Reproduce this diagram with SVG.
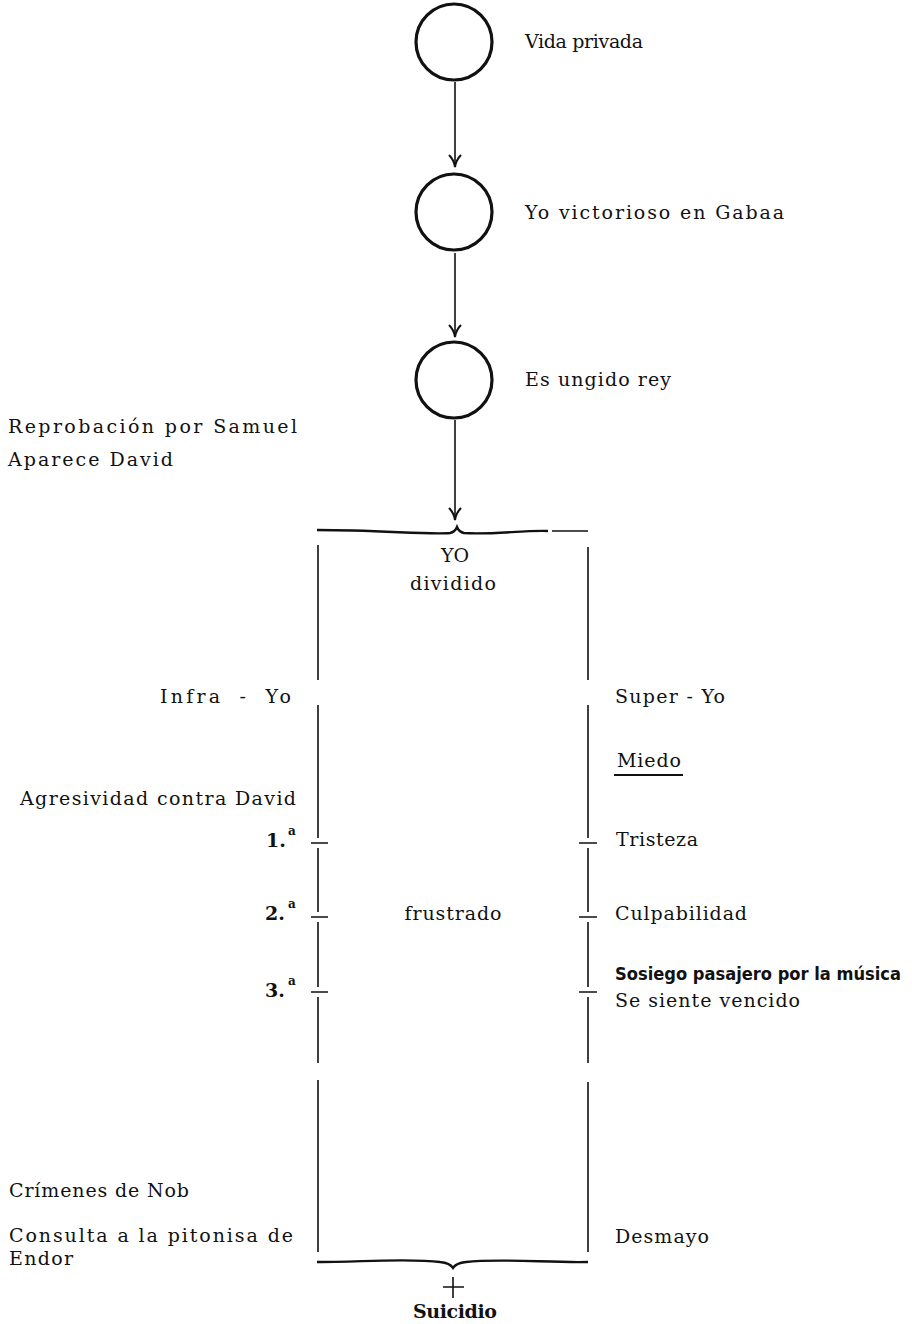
<svg xmlns="http://www.w3.org/2000/svg" width="912" height="1324" viewBox="0 0 912 1324">
<style>
  text { font-family: "DejaVu Serif", "Liberation Serif", "Times New Roman", serif; font-size: 19px; fill: #111; }
  .c { text-anchor: middle; }
  .b { font-weight: bold; }
  .sup { font-size: 12px; font-weight: bold; }
  .sans { font-family: "Liberation Sans Narrow", "DejaVu Sans Condensed", "Liberation Sans", sans-serif; font-weight: bold; font-size: 18px; }
  .node { fill: none; stroke: #111; stroke-width: 3.2; }
  .ln { stroke: #111; stroke-width: 1.6; fill: none; }
  .brace { stroke: #111; stroke-width: 2.4; fill: none; }
</style>
<defs>
  <marker id="arr" viewBox="-14 -8 16 16" markerWidth="16" markerHeight="16" refX="0" refY="0" orient="auto" markerUnits="userSpaceOnUse">
    <path d="M-12,-6 Q-7,-1 0,0 Q-7,1 -12,6" fill="none" stroke="#111" stroke-width="2"/>
  </marker>
</defs>
<rect width="912" height="1324" fill="#fff"/>

<g id="connectors">
  <path class="ln" d="M455,82 L455,167" marker-end="url(#arr)"/>
  <path class="ln" d="M455,253 L455,337" marker-end="url(#arr)"/>
  <path class="ln" d="M455,420 L455,520" marker-end="url(#arr)"/>
</g>

<g id="node-vida">
  <circle class="node" cx="454" cy="42" r="38"/>
  <text x="525" y="48" textLength="118" lengthAdjust="spacing">Vida privada</text>
</g>
<g id="node-gabaa">
  <circle class="node" cx="454" cy="212" r="38"/>
  <text x="525" y="219" textLength="259" lengthAdjust="spacing">Yo victorioso en Gabaa</text>
</g>
<g id="node-rey">
  <circle class="node" cx="454" cy="380" r="38"/>
  <text x="525" y="386" textLength="146" lengthAdjust="spacing">Es ungido rey</text>
</g>

<g id="left-notes">
  <text x="8" y="433" textLength="289" lengthAdjust="spacing">Reprobación por Samuel</text>
  <text x="8" y="466" textLength="165" lengthAdjust="spacing">Aparece David</text>
  <text x="160" y="703" textLength="131" lengthAdjust="spacing" style="word-spacing:7px">Infra - Yo</text>
  <text x="20" y="805" textLength="276" lengthAdjust="spacing">Agresividad contra David</text>
  <text class="b" x="266" y="847">1.</text><text class="sup" x="288" y="835">a</text>
  <text class="b" x="265" y="920">2.</text><text class="sup" x="288" y="908">a</text>
  <text class="b" x="265" y="997">3.</text><text class="sup" x="288" y="985">a</text>
  <text x="9" y="1197" textLength="180" lengthAdjust="spacing">Crímenes de Nob</text>
  <text x="9" y="1242" textLength="284" lengthAdjust="spacing">Consulta a la pitonisa de</text>
  <text x="9" y="1265" textLength="64" lengthAdjust="spacing">Endor</text>
</g>

<g id="yo-dividido">
  <path class="brace" d="M317,530 C380,530 430,535 450,533 Q455,532 457,527 Q459,532 464,533 C490,535 525,530 548,531"/>
  <path class="ln" d="M552,531 L588,531"/>
  <text class="c" x="455" y="562">YO</text>
  <text class="c" x="453" y="590" textLength="86" lengthAdjust="spacing">dividido</text>
  <text class="c" x="453" y="920" textLength="97" lengthAdjust="spacing">frustrado</text>
  <path class="ln" d="M318,545 V680 M318,705 V838 M318,848 V912 M318,922 V987 M318,997 V1063 M318,1080 V1252"/>
  <path class="ln" d="M588,547 V680 M588,705 V838 M588,848 V912 M588,922 V987 M588,997 V1063 M588,1082 V1252"/>
  <path class="ln" d="M311,843 H328 M311,917 H328 M311,992 H328"/>
  <path class="ln" d="M579,843 H597 M579,917 H597 M579,992 H597"/>
  <path class="brace" d="M317,1262 C360,1262 410,1258 440,1262 Q450,1263 453,1268 Q456,1263 466,1262 C500,1258 550,1263 588,1262"/>
  <path class="ln" d="M443,1287 H464 M453,1277 V1298"/>
  <text class="c" x="455" y="1318" textLength="84" lengthAdjust="spacing" style="font-weight:600">Suicidio</text>
</g>

<g id="right-notes">
  <text x="615" y="703" textLength="110" lengthAdjust="spacing">Super - Yo</text>
  <text x="617" y="767" textLength="64" lengthAdjust="spacing">Miedo</text>
  <path d="M614,775 H683" stroke="#111" stroke-width="2"/>
  <text x="616" y="846" textLength="82" lengthAdjust="spacing">Tristeza</text>
  <text x="615" y="920" textLength="132" lengthAdjust="spacing">Culpabilidad</text>
  <text class="sans" x="615" y="980" textLength="286" lengthAdjust="spacingAndGlyphs">Sosiego pasajero por la música</text>
  <text x="615" y="1007" textLength="185" lengthAdjust="spacing">Se siente vencido</text>
  <text x="615" y="1243" textLength="94" lengthAdjust="spacing">Desmayo</text>
</g>
</svg>
